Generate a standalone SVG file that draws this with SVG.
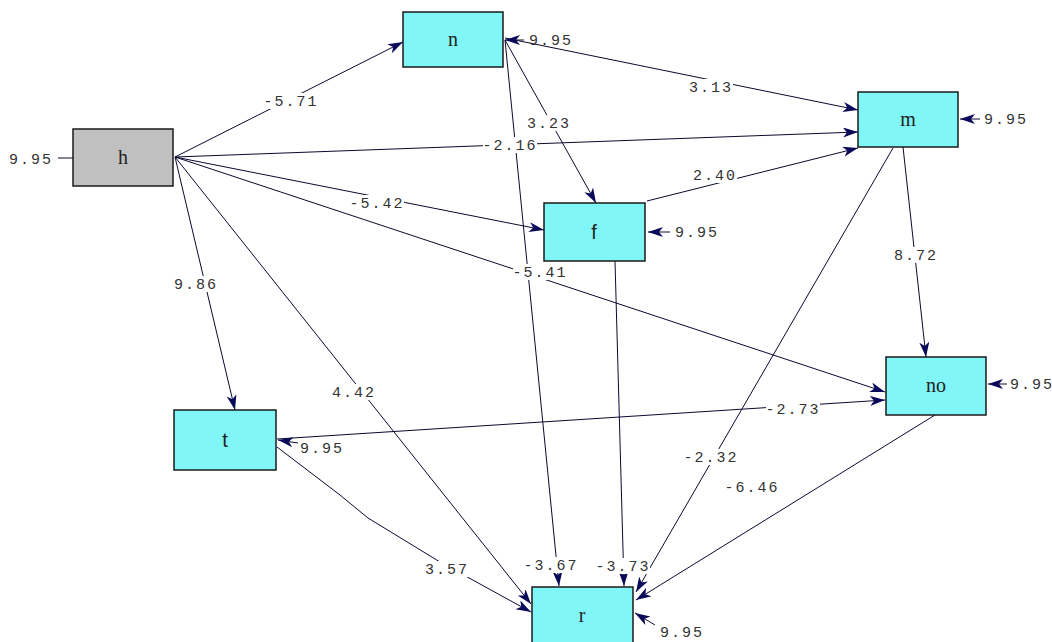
<svg xmlns="http://www.w3.org/2000/svg" width="1052" height="642" viewBox="0 0 1052 642">
<style>
.box{fill:#80f6f6;stroke:#1a1a1a;stroke-width:1.5}
.gray{fill:#c0c0c0}
.nt{font-family:"Liberation Serif",serif;font-size:20px;fill:#222;text-anchor:middle}
.ns{font-family:"Liberation Sans",sans-serif;font-size:20px;fill:#222;text-anchor:middle}
.ln{stroke:#0a0a30;stroke-width:1;fill:none}
.bg{fill:#fff}
.lb{font-family:"Liberation Mono",monospace;font-size:15px;letter-spacing:2px;fill:#333;text-anchor:middle}
.er{font-family:"Liberation Mono",monospace;font-size:15px;letter-spacing:2px;fill:#333}
</style>
<defs>
<marker id="ah" markerUnits="userSpaceOnUse" markerWidth="18" markerHeight="12" refX="15" refY="5" orient="auto">
<path d="M0,0 L15,5 L0,10 L4,5 z" fill="#0a0a5a"/>
</marker>
</defs>
<g id="connectors">
<line class="ln" x1="58" y1="158" x2="73" y2="158"/>
<line class="ln" x1="175" y1="157" x2="403" y2="42" marker-end="url(#ah)"/>
<line class="ln" x1="175" y1="157" x2="858" y2="132" marker-end="url(#ah)"/>
<line class="ln" x1="175" y1="157" x2="544" y2="230" marker-end="url(#ah)"/>
<line class="ln" x1="175" y1="157" x2="885" y2="392" marker-end="url(#ah)"/>
<line class="ln" x1="175" y1="157" x2="235" y2="410" marker-end="url(#ah)"/>
<line class="ln" x1="175" y1="157" x2="531" y2="604" marker-end="url(#ah)"/>
<line class="ln" x1="505" y1="38" x2="858" y2="110" marker-end="url(#ah)"/>
<line class="ln" x1="505" y1="40" x2="596" y2="203" marker-end="url(#ah)"/>
<line class="ln" x1="505" y1="40" x2="559" y2="586" marker-end="url(#ah)"/>
<line class="ln" x1="647" y1="201" x2="858" y2="148" marker-end="url(#ah)"/>
<line class="ln" x1="615" y1="261" x2="624" y2="586" marker-end="url(#ah)"/>
<line class="ln" x1="903" y1="147" x2="926" y2="357" marker-end="url(#ah)"/>
<line class="ln" x1="893" y1="148" x2="636" y2="592" marker-end="url(#ah)"/>
<line class="ln" x1="935" y1="415" x2="636" y2="600" marker-end="url(#ah)"/>
<line class="ln" x1="277" y1="439" x2="885" y2="400" marker-end="url(#ah)"/>
<polyline class="ln" points="277,447 340,495 368,518 440,562 531,612" marker-end="url(#ah)"/>
<line class="ln" x1="524" y1="40" x2="505" y2="40" marker-end="url(#ah)"/>
<line class="ln" x1="980" y1="119" x2="960" y2="119" marker-end="url(#ah)"/>
<line class="ln" x1="670" y1="232" x2="648" y2="232" marker-end="url(#ah)"/>
<line class="ln" x1="1007" y1="384" x2="988" y2="384" marker-end="url(#ah)"/>
<line class="ln" x1="298" y1="443" x2="278" y2="440" marker-end="url(#ah)"/>
<line class="ln" x1="655" y1="625" x2="635" y2="613" marker-end="url(#ah)"/>
<rect class="bg" x="264" y="93" width="54" height="16"/><text class="lb" x="291" y="106">-5.71</text>
<rect class="bg" x="689" y="79" width="44" height="16"/><text class="lb" x="711" y="92">3.13</text>
<rect class="bg" x="527" y="115" width="44" height="16"/><text class="lb" x="549" y="128">3.23</text>
<rect class="bg" x="483" y="137" width="54" height="16"/><text class="lb" x="510" y="150">-2.16</text>
<rect class="bg" x="350" y="195" width="54" height="16"/><text class="lb" x="377" y="208">-5.42</text>
<rect class="bg" x="693" y="167" width="44" height="16"/><text class="lb" x="715" y="180">2.40</text>
<rect class="bg" x="894" y="247" width="44" height="16"/><text class="lb" x="916" y="260">8.72</text>
<rect class="bg" x="174" y="276" width="44" height="16"/><text class="lb" x="196" y="289">9.86</text>
<rect class="bg" x="513" y="264" width="54" height="16"/><text class="lb" x="540" y="277">-5.41</text>
<rect class="bg" x="766" y="401" width="54" height="16"/><text class="lb" x="793" y="414">-2.73</text>
<rect class="bg" x="332" y="384" width="44" height="16"/><text class="lb" x="354" y="397">4.42</text>
<rect class="bg" x="684" y="449" width="54" height="16"/><text class="lb" x="711" y="462">-2.32</text>
<rect class="bg" x="725" y="479" width="54" height="16"/><text class="lb" x="752" y="492">-6.46</text>
<rect class="bg" x="524" y="557" width="54" height="16"/><text class="lb" x="551" y="570">-3.67</text>
<rect class="bg" x="596" y="558" width="54" height="16"/><text class="lb" x="623" y="571">-3.73</text>
<rect class="bg" x="425" y="561" width="44" height="16"/><text class="lb" x="447" y="574">3.57</text>
<text class="er" x="9" y="164">9.95</text>
<text class="er" x="529" y="45">9.95</text>
<text class="er" x="984" y="124">9.95</text>
<text class="er" x="675" y="237">9.95</text>
<text class="er" x="1010" y="389">9.95</text>
<text class="er" x="300" y="453">9.95</text>
<text class="er" x="660" y="637">9.95</text>
</g>
<g id="node-h"><rect class="box gray" x="73" y="129" width="100" height="57"/><text class="nt" x="123" y="164">h</text></g>
<g id="node-n"><rect class="box" x="403" y="12" width="100" height="55"/><text class="nt" x="453" y="46">n</text></g>
<g id="node-m"><rect class="box" x="858" y="92" width="100" height="55"/><text class="nt" x="908" y="126">m</text></g>
<g id="node-f"><rect class="box" x="544" y="203" width="101" height="58"/><text class="ns" x="594" y="239">f</text></g>
<g id="node-no"><rect class="box" x="886" y="357" width="100" height="58"/><text class="nt" x="936" y="392">no</text></g>
<g id="node-t"><rect class="box" x="174" y="410" width="102" height="60"/><text class="ns" x="225" y="447">t</text></g>
<g id="node-r"><rect class="box" x="532" y="587" width="101" height="60"/><text class="nt" x="582" y="622">r</text></g>
</svg>
